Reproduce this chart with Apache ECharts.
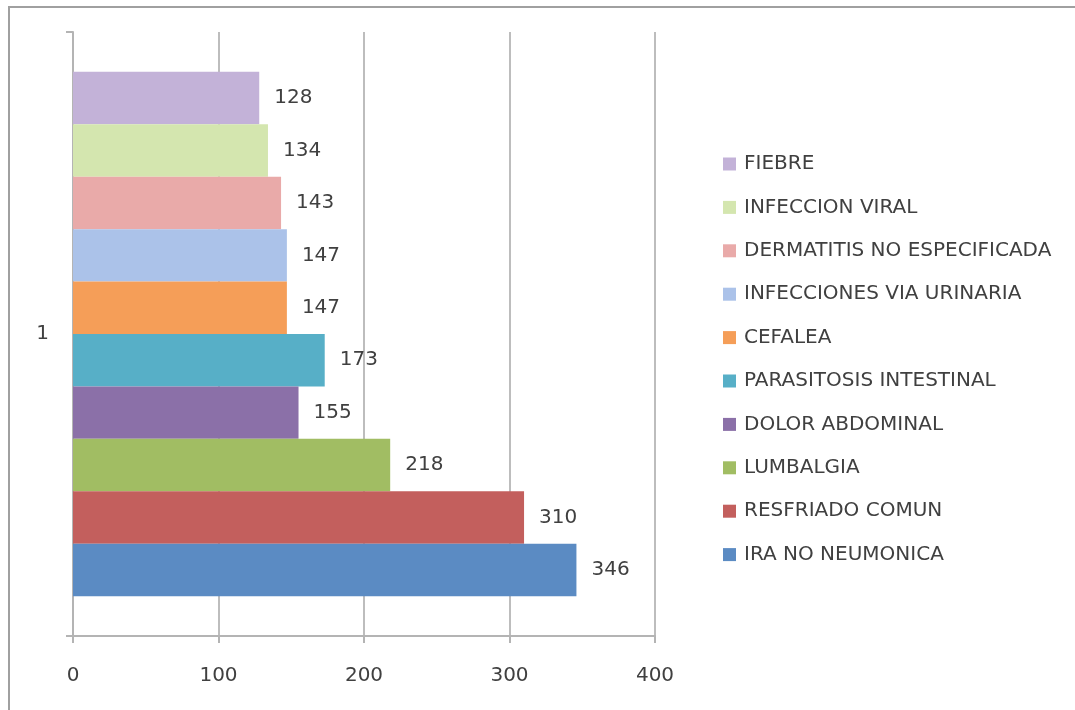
<!DOCTYPE html>
<html>
<head>
<meta charset="utf-8">
<script src="https://cdn.jsdelivr.net/npm/echarts@6/dist/echarts.min.js"></script>
<style>html,body{margin:0;padding:0;background:#fff;}#c{width:1075px;height:710px;}</style>
</head>
<body>
<div id="c"></div>
<script>
// Series in order from top bar to bottom bar
const categories = ['1'];
const seriesNames = ['FIEBRE','INFECCION VIRAL','DERMATITIS NO ESPECIFICADA','INFECCIONES VIA URINARIA','CEFALEA','PARASITOSIS INTESTINAL','DOLOR ABDOMINAL','LUMBALGIA','RESFRIADO COMUN','IRA NO NEUMONICA'];
const seriesValues = [128, 134, 143, 147, 147, 173, 155, 218, 310, 346];
const seriesColors = ['#C3B2D8','#D4E6AF','#E9AAA9','#ABC2E9','#F59E58','#57AFC7','#8B70A8','#A1BD63','#C35F5D','#5B8BC3'];
const xTicks = [0, 100, 200, 300, 400];

const chart = echarts.init(document.getElementById('c'), null, {renderer: 'canvas'});
const fontFam = 'DejaVu Sans';
const series = seriesNames.map((n, i) => ({
  name: n,
  type: 'bar',
  data: [seriesValues[i]],
  barGap: '0%',
  barCategoryGap: '13.2%',
  itemStyle: {color: seriesColors[i]},
  label: {show: true, position: 'right', distance: 15, color: '#404040', fontFamily: fontFam, fontSize: 20, padding: [3, 0, 0, 0]},
  emphasis: {disabled: true}
}));
chart.setOption({
  animation: false,
  backgroundColor: '#fff',
  graphic: [{
    type: 'polyline',
    shape: {points: [[9, 710], [9, 7], [1075, 7]]},
    style: {stroke: '#A0A0A0', lineWidth: 2, fill: null}
  }],
  grid: {left: 73, right: 420, top: 32, bottom: 74, containLabel: false},
  legend: {
    orient: 'vertical',
    left: 718,
    top: 149,
    data: seriesNames.slice(),
    icon: 'rect',
    itemWidth: 13,
    itemHeight: 13,
    itemGap: 23.4,
    textStyle: {color: '#404040', fontFamily: fontFam, fontSize: 20, lineHeight: 20, padding: [0, 0, 0, 3]},
    selectedMode: false
  },
  xAxis: {
    type: 'value',
    min: xTicks[0],
    max: xTicks[xTicks.length - 1],
    interval: 100,
    axisLine: {show: true, lineStyle: {color: '#B4B4B4', width: 2}},
    axisTick: {show: true, length: 7, lineStyle: {color: '#B4B4B4', width: 2}},
    axisLabel: {color: '#404040', fontFamily: fontFam, fontSize: 20, margin: 30},
    splitLine: {show: true, lineStyle: {color: '#BDBDBD', width: 2}}
  },
  yAxis: {
    type: 'category',
    data: categories,
    axisLine: {show: true, lineStyle: {color: '#B4B4B4', width: 2}},
    axisTick: {show: true, length: 7, lineStyle: {color: '#B4B4B4', width: 2}},
    axisLabel: {color: '#404040', fontFamily: fontFam, fontSize: 20, margin: 24}
  },
  series: series
});
</script>
</body>
</html>
